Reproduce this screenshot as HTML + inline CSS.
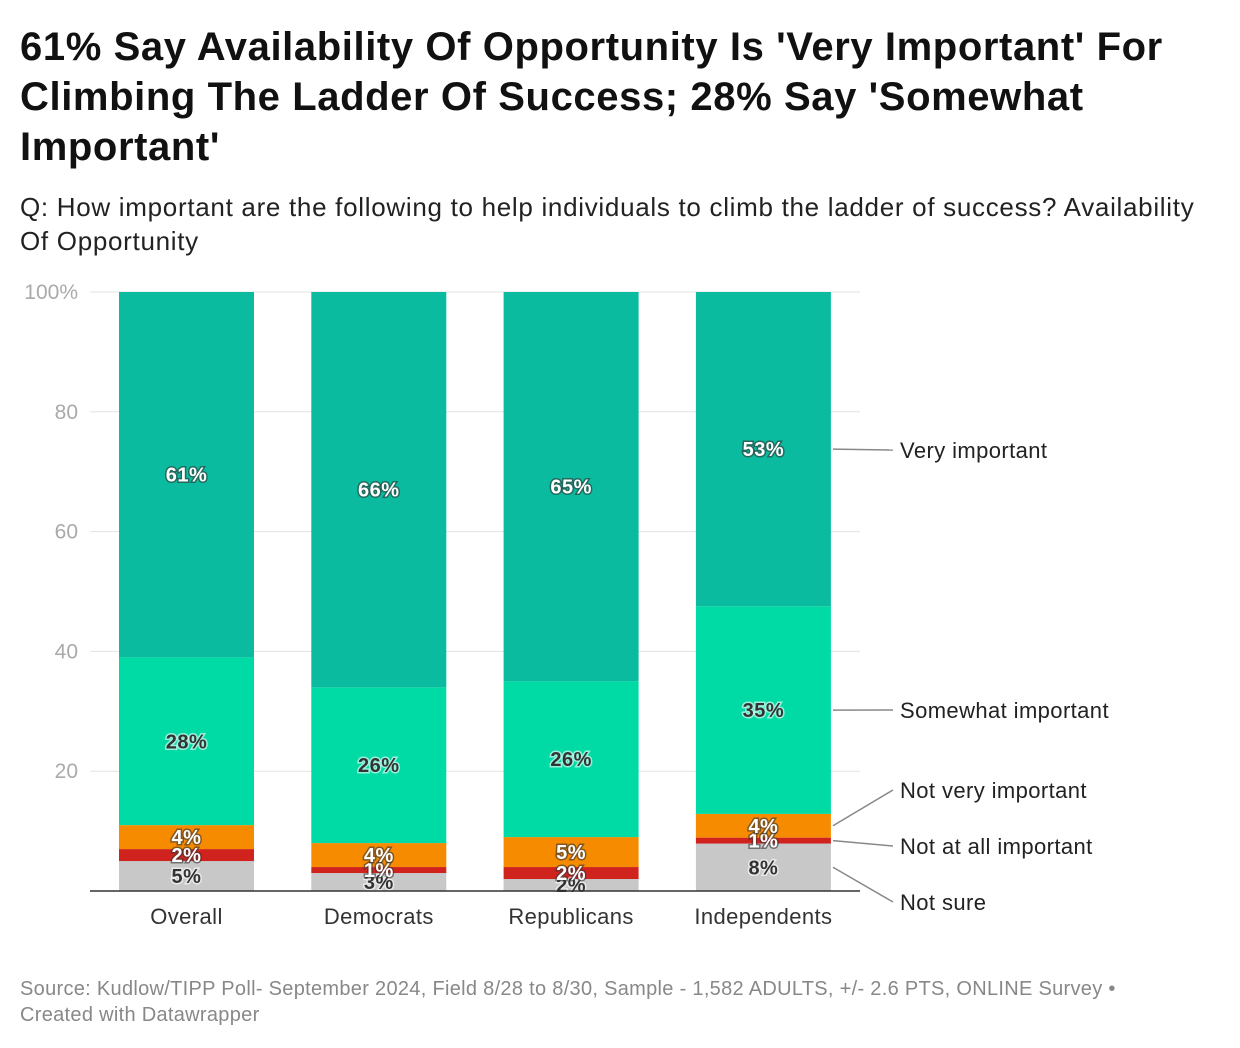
<!DOCTYPE html>
<html><head><meta charset="utf-8"><style>
body{margin:0;background:#fff;font-family:"Liberation Sans",Roboto,sans-serif;}
#wrap{position:relative;width:1240px;height:1048px;overflow:hidden}
h1{position:absolute;left:20px;top:22px;margin:0;font-size:40px;line-height:50px;font-weight:bold;color:#111;width:1230px;letter-spacing:0.6px;white-space:nowrap}
.sub{position:absolute;left:20px;top:190px;font-size:26px;line-height:34px;color:#222;width:1230px;letter-spacing:0.7px;white-space:nowrap}
.foot{position:absolute;left:20px;top:976px;font-size:20px;line-height:26px;color:#888;letter-spacing:0.3px;white-space:nowrap}
svg{position:absolute;left:0;top:0}
</style></head><body><div id="wrap">
<h1>61% Say Availability Of Opportunity Is 'Very Important' For<br>Climbing The Ladder Of Success; 28% Say 'Somewhat<br>Important'</h1>
<div class="sub">Q: How important are the following to help individuals to climb the ladder of success? Availability<br>Of Opportunity</div>
<svg id="chart" width="1240" height="1048"></svg>
<div class="foot">Source: Kudlow/TIPP Poll- September 2024, Field 8/28 to 8/30, Sample - 1,582 ADULTS, +/- 2.6 PTS, ONLINE Survey •<br>Created with Datawrapper</div>
</div>
<script>
const categories=["Overall","Democrats","Republicans","Independents"];
const seriesNames=["Not sure","Not at all important","Not very important","Somewhat important","Very important"];
const notSure=[5,3,2,8];
const notAtAll=[2,1,2,1];
const notVery=[4,4,5,4];
const somewhat=[28,26,26,35];
const very=[61,66,65,53];
const yTicks=[0,20,40,60,80,100];
const yTickLabels=["","20","40","60","80","100%"];
const series=[notSure,notAtAll,notVery,somewhat,very];
const colors=["#c8c8c8","#d0231e","#f78b00","#00dba6","#0abb9f"];
const darkText=[true,false,false,true,false];
const svg=document.getElementById('chart');
const NS="http://www.w3.org/2000/svg";
const y0=891,y1=292,x0=90,x1=860;
const y=v=>y0-(v/100)*(y0-y1);
const bx=i=>119+i*192.3, bw=135;
function mk(t,a){const e=document.createElementNS(NS,t);for(const k in a)e.setAttribute(k,a[k]);svg.appendChild(e);return e;}
yTicks.forEach((t,i)=>{
  if(t>0){const g=mk('line',{x1:x0,x2:x1,y1:y(t),y2:y(t),stroke:'#e3e3e3','stroke-width':1});
  
  }
  const l=mk('text',{x:78,y:y(t)+7,'text-anchor':'end','font-size':21,fill:'#aaa'});l.textContent=yTickLabels[i];
  
  
});
const midsLast=[];
categories.forEach((c,i)=>{
  const tot=series.reduce((s,a)=>s+a[i],0);
  let acc=0;const mids=[];
  series.forEach((s,j)=>{
    const v=s[i]*100/tot;
    const r=mk('rect',{x:bx(i),width:bw,y:y(acc+v),height:y(acc)-y(acc+v),fill:colors[j]});
    
    
    mids.push(y(acc+v/2));acc+=v;
  });
  if(i==3)midsLast.push(...mids);
  series.forEach((s,j)=>{
    const t=mk('text',{x:bx(i)+bw/2,y:mids[j]+7,'text-anchor':'middle','font-size':20,'font-weight':'bold','letter-spacing':0.5,
      fill:darkText[j]?'#333':'#fff',stroke:darkText[j]?'#fff':'#333','stroke-width':3,'paint-order':'stroke','stroke-opacity':0.6});
    t.textContent=s[i]+'%';
    
    
  });
  const xl=mk('text',{x:bx(i)+bw/2,y:924,'text-anchor':'middle','font-size':22,fill:'#333','letter-spacing':0.4});xl.textContent=c;
  
  
});
const ax=mk('line',{x1:x0,x2:x1,y1:y0,y2:y0,stroke:'#333','stroke-width':1.5});


const legY=[902,846,790,710,450];
series.forEach((s,j)=>{
  const ln=mk('polyline',{points:`833,${midsLast[j]} 893,${legY[j]}`,fill:'none',stroke:'#888','stroke-width':1.5});
  
  
  const t=mk('text',{x:900,y:legY[j]+8,'font-size':22,fill:'#222','letter-spacing':0.4});t.textContent=seriesNames[j];
  
  
});
</script></body></html>
